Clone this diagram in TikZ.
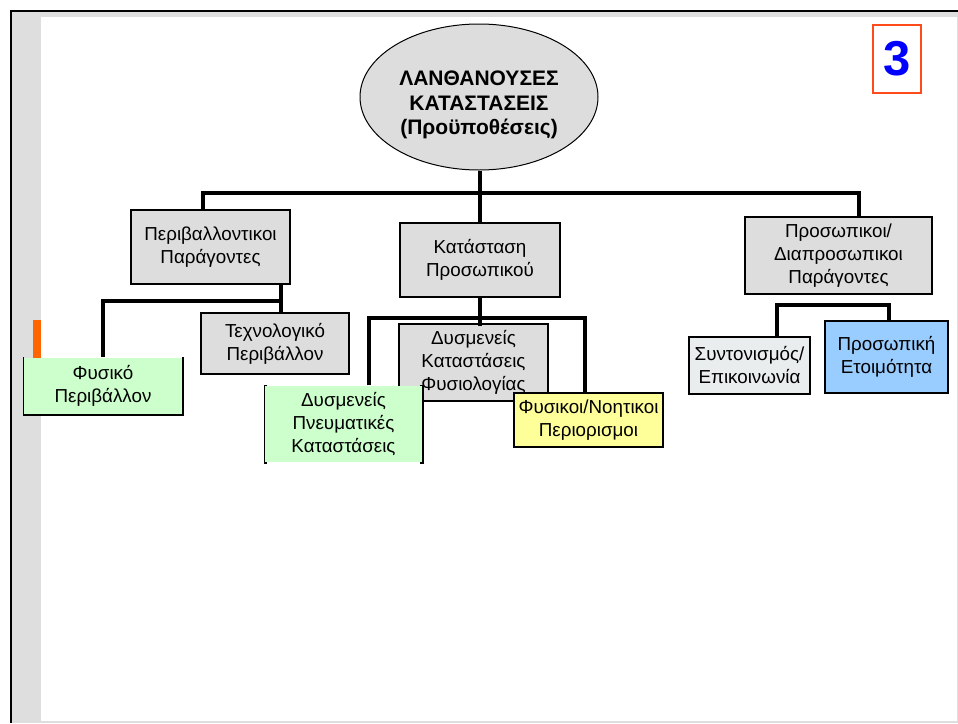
\documentclass[tikz,border=0pt]{standalone}
\usepackage{fontspec}
\setmainfont{Liberation Sans}
\usetikzlibrary{shapes.geometric,backgrounds}
\definecolor{boxgray}{HTML}{DDDDDD}
\definecolor{bandgray}{HTML}{DEDEDE}
\definecolor{mintgreen}{HTML}{CCFFCC}
\definecolor{paleyellow}{HTML}{FFFF99}
\definecolor{skyblue}{HTML}{99CCFF}
\definecolor{palegray}{HTML}{E9EDED}
\definecolor{numred}{HTML}{FF4A1C}
\definecolor{numblue}{HTML}{0000FF}
\definecolor{barorange}{HTML}{FF6600}

\begin{document}
\begin{tikzpicture}[x=1pt,y=-1pt,
  font=\fontsize{18.8}{23}\selectfont,
  box/.style={draw,line width=1.5pt,fill=boxgray,align=center,inner sep=0pt},
  openbox/.style={box,draw=none,fill=mintgreen},
  link/.style={line width=4pt},
  edge/.style={line width=1.5pt}
]
  \useasboundingbox (0,0) rectangle (958,723);
  % slide frame
  \begin{scope}[on background layer]
    \fill[white] (0,0) rectangle (958,723);
    \fill[bandgray] (12,12) rectangle (958,723);
    \fill[white] (41,17) rectangle (957,721);
    \draw[line width=2.5pt] (11,723) -- (11,11) -- (958,11);
    \fill[barorange] (33,320) rectangle (41,358);
  \end{scope}

  \node[ellipse,draw,line width=1pt,fill=boxgray,minimum width=238pt,minimum height=146pt,inner sep=0pt] (top) at (479,97) {};
  \node[align=center,font=\bfseries\fontsize{21}{24.5}\selectfont] (toptitle) at ([yshift=-8pt]top.center) {ΛΑΝΘΑΝΟΥΣΕΣ\\ΚΑΤΑΣΤΑΣΕΙΣ\\(Προϋποθέσεις)};
  \node[draw=numred,line width=1.2pt,minimum width=48pt,minimum height=68pt,inner sep=0pt,text=numblue,
        font=\bfseries\fontsize{49}{49}\selectfont] (num) at (897,59) {3};

  \node[box,minimum width=159pt,minimum height=74pt] (env) at (210.5,247) {Περιβαλλοντικοι\\Παράγοντες};
  \node[box,minimum width=160pt,minimum height=74pt] (state) at (480,260) {Κατάσταση\\Προσωπικού};
  \node[box,minimum width=187pt,minimum height=77pt] (pers) at (838.5,255.5) {Προσωπικοι/\\Διαπροσωπικοι\\Παράγοντες};
  \coordinate (bus) at (481,193);
  \draw[link] ([xshift=-8pt]env.north) |- (bus) -| ([xshift=20pt]pers.north);
  \draw[link] (state.north |- top.south) -- (state.north);

  \node[box,minimum width=148pt,minimum height=61pt] (tech) at (275,343.5) {Τεχνολογικό\\Περιβάλλον};
  \node[openbox,minimum width=158pt,minimum height=56pt] (phys) at (103,386) {Φυσικό\\Περιβάλλον};
  \draw[edge] (phys.north west) -- (phys.south west) -- (phys.south east) -- (phys.north east);
  \coordinate (envfork) at (281,301);
  \draw[link] (envfork |- env.south) -- (envfork |- tech.north);
  \draw[link] (envfork) -| (phys.north);

  \node[box,minimum width=149pt,minimum height=77pt] (physio) at (473.5,362.5) {Δυσμενείς\\Καταστάσεις\\Φυσιολογίας};
  \coordinate (statefork) at (480,318);
  \draw[link] (state.south) -- ([yshift=-3pt]state.south |- physio.north);
  \node[openbox,minimum width=157pt,minimum height=76pt] (mental) at (343.5,424) {Δυσμενείς\\Πνευματικές\\Καταστάσεις};
  \draw[edge] ([xshift=3pt]mental.north west) -- (mental.north west) -- (mental.south west) -- ++(3,0);
  \draw[edge] ([xshift=-3pt]mental.north east) -- (mental.north east) -- (mental.south east) -- ++(-3,0);
  \node[box,fill=paleyellow,minimum width=149pt,minimum height=54pt] (limits) at (588.5,420) {Φυσικοι/Νοητικοι\\Περιορισμοι};
  \begin{scope}[on background layer]
    \draw[link] ([xshift=25pt]mental.north) |- (statefork) -| ([xshift=-4pt]limits.north);
  \end{scope}

  \node[box,fill=palegray,minimum width=121pt,minimum height=57pt] (coord) at (749.5,365.5) {Συντονισμός/\\Επικοινωνία};
  \node[box,fill=skyblue,minimum width=123pt,minimum height=72pt] (ready) at (886.5,357) {Προσωπική\\Ετοιμότητα};
  \coordinate (persfork) at (889,305);
  \draw[link] ([xshift=27pt]coord.north) |- (persfork) -- (persfork |- ready.north);
\end{tikzpicture}
\end{document}
